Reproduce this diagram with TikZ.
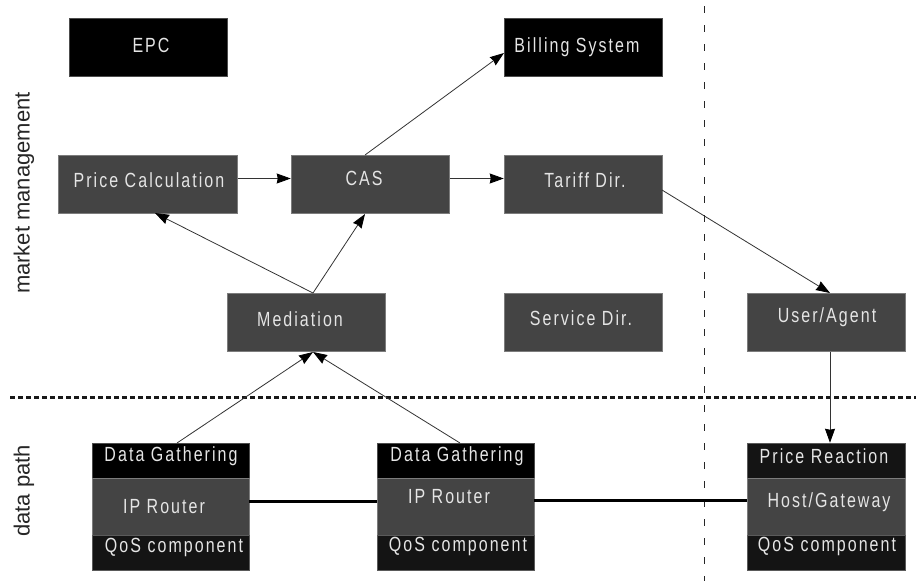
\documentclass[tikz,border=0pt]{standalone}
\usepackage{fontspec}
\setmainfont{Liberation Sans}
\usetikzlibrary{arrows.meta}
\definecolor{dk}{HTML}{444444}
\definecolor{blk}{HTML}{141414}
\tikzset{x=1pt,y=-1pt,
 bx/.style={fill=dk,draw=dk!70!white,line width=.5pt,inner sep=0pt,minimum width=0pt},
 bb/.style={bx,fill=black,draw=black!70!white},
 bq/.style={bx,fill=blk,draw=blk!70!white},
 tx/.style={text=white!90!black,font=\fontsize{20.5}{22}\selectfont\addfontfeatures{FakeStretch=.78,LetterSpace=10},inner sep=0pt},
 lb/.style={text=black!85,font=\fontsize{22}{24}\selectfont,rotate=90,inner sep=0pt},
 ar/.style={draw=black!80,line width=.8pt,-{Stealth[length=14pt,width=10pt,inset=1pt,color=black]}}}
\begin{document}
\begin{tikzpicture}
\useasboundingbox[fill=white] (0,0) rectangle (916,581);
\draw[line width=.7pt,black!85,dash pattern=on 7pt off 12pt] (704,6) -- (704,581);
\draw[line width=2.2pt,black!90,dash pattern=on 5pt off 3pt] (10,397.5) -- (916,397.5);
\node[bb,minimum width=158pt,minimum height=58pt] (epc) at (148,47) {};
\node[tx] at (151,45) {EPC};
\node[bb,minimum width=158pt,minimum height=58pt] (bill) at (583,47) {};
\node[tx] at (577,47) {Billing System};
\node[bx,minimum width=179pt,minimum height=58pt] (price) at (148,184) {};
\node[tx] at (149,180) {Price Calculation};
\node[bx,minimum width=158pt,minimum height=58pt] (cas) at (370,184) {};
\node[tx] at (364,178.5) {CAS};
\node[bx,minimum width=158pt,minimum height=58pt] (tariff) at (583,184) {};
\node[tx] at (585,180) {Tariff Dir.};
\node[bx,minimum width=158pt,minimum height=58pt] (med) at (306,322.5) {};
\node[tx] at (300,319) {Mediation};
\node[bx,minimum width=158pt,minimum height=58pt] (svc) at (583,322.5) {};
\node[tx] at (581,318) {Service Dir.};
\node[bx,minimum width=158pt,minimum height=58pt] (user) at (826,322.5) {};
\node[tx] at (827,317) {User/Agent};
\node[bb,minimum width=157pt,minimum height=35pt] (g1) at (170.5,460.5) {};
\node[bx,minimum width=157pt,minimum height=57pt] (r1) at (170.5,506.5) {};
\node[bq,minimum width=157pt,minimum height=35pt] (q1) at (170.5,552.5) {};
\node[bb,minimum width=157pt,minimum height=35pt] (g2) at (455.5,460.5) {};
\node[bx,minimum width=157pt,minimum height=57pt] (r2) at (455.5,506.5) {};
\node[bq,minimum width=157pt,minimum height=35pt] (q2) at (455.5,552.5) {};
\node[bq,minimum width=158pt,minimum height=35pt] (g3) at (826,460.5) {};
\node[bx,minimum width=158pt,minimum height=57pt] (r3) at (826,506.5) {};
\node[bq,minimum width=158pt,minimum height=35pt] (q3) at (826,552.5) {};
\node[tx] at (171,456) {Data Gathering};
\node[tx] at (164,507) {IP Router};
\node[tx] at (174,547) {QoS component};
\node[tx] at (457,456) {Data Gathering};
\node[tx] at (449,497) {IP Router};
\node[tx] at (458,546) {QoS component};
\node[tx] at (824,456) {Price Reaction};
\node[tx] at (829,502) {Host/Gateway};
\node[tx] at (827,546) {QoS component};
\node[lb] at (24,193) {market management};
\node[lb] at (24,491) {data path};
\draw[line width=3pt,black] (r1.east|-0,501) -- (r2.west|-0,501);
\draw[line width=3pt,black] (r2.east|-0,500) -- (r3.west|-0,500);
\coordinate (casT) at (365,155);
\coordinate (billW) at (504,53);
\coordinate (medN) at (313,293);
\coordinate (casS) at (365,214);
\coordinate (priceS) at (155,213);
\coordinate (medS) at (313,352);
\coordinate (g1N) at (177,443);
\coordinate (g2N) at (460,443);
\coordinate (tarE) at (662,190);
\coordinate (userN) at (830,293);
\draw[ar] (price.east|-0,178.5) -- (cas.west|-0,178.5);
\draw[ar] (450,178.5) -- (tariff.west|-0,178.5);
\draw[ar] (casT) -- (billW);
\draw[ar] (medN) -- (casS);
\draw[ar] (medN) -- (priceS);
\draw[ar] (g1N) -- (medS);
\draw[ar] (g2N) -- (medS);
\draw[ar] (tarE) -- (userN);
\draw[ar] (user.south-|userN) -- (g3.north-|userN);
\end{tikzpicture}
\end{document}
